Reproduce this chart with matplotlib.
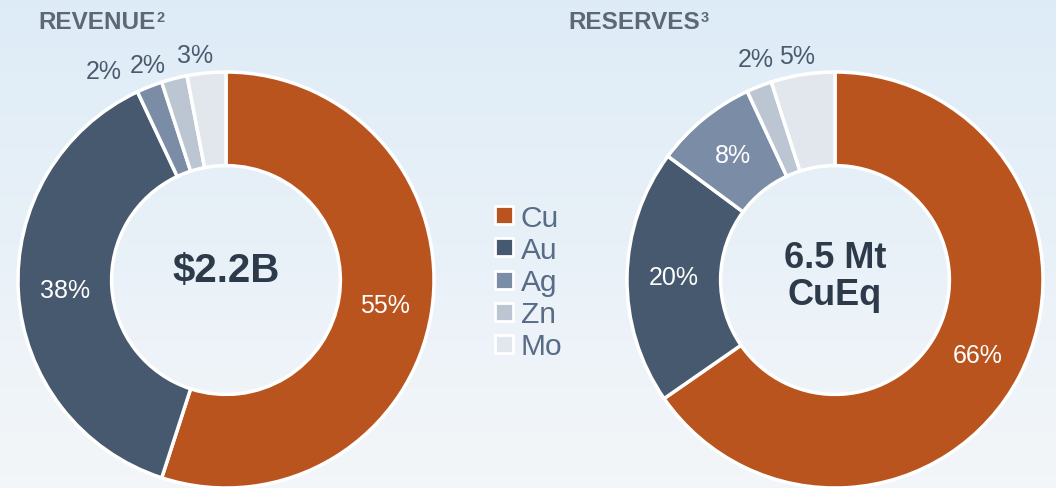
import numpy as np
import matplotlib
matplotlib.use("Agg")
import matplotlib.pyplot as plt
from matplotlib.lines import Line2D

plt.rcParams['font.family'] = ['Liberation Sans', 'DejaVu Sans']

metals = ["Cu", "Au", "Ag", "Zn", "Mo"]
colors = ["#b9541f", "#46596e", "#7a8ca6", "#bcc6d3", "#e2e7ed"]
revenue = [55, 38, 2, 2, 3]
reserves = [66, 20, 8, 2, 5]
revenue_title = ("REVENUE", "2")
reserves_title = ("RESERVES", "3")
revenue_center = "$2.2B"
reserves_center = "6.5 Mt\nCuEq"

W, H = 1056, 489
fig = plt.figure(figsize=(W / 100, H / 100), dpi=100)

# background sky gradient
bg = fig.add_axes([0, 0, 1, 1], zorder=-10)
grad = np.linspace(0, 1, 256)[:, None]
top = np.array([0.87, 0.925, 0.97])
bot = np.array([0.955, 0.965, 0.975])
img = top[None, None, :] * (1 - grad[..., None]) + bot[None, None, :] * grad[..., None]
img = np.clip(img, 0, 1)
bg.imshow(img, aspect='auto', extent=[0, 1, 0, 1], origin='upper')
bg.axis('off')


def px(x, y):
    return x / W, 1 - y / H


def donut(cx, cy, r, values, inner_labels):
    ax = fig.add_axes([(cx - r) / W, (H - cy - r) / H, 2 * r / W, 2 * r / H])
    ax.pie(values, colors=colors, startangle=90, counterclock=False,
           radius=1.0, wedgeprops=dict(width=0.45, edgecolor='white', linewidth=2.5))
    total = sum(values)
    cum = 0
    for v, show in zip(values, inner_labels):
        mid = 90 - 360 * (cum + v / 2) / total
        cum += v
        if show:
            rr = 0.775
            ax.text(rr * np.cos(np.radians(mid)), rr * np.sin(np.radians(mid)), f"{v}%",
                    ha='center', va='center', color='white', fontsize=18)
    ax.set_xlim(-1, 1)
    ax.set_ylim(-1, 1)
    ax.set_aspect('auto')
    ax.axis('off')
    return ax


axL = donut(226, 281, 208, revenue, [True, True, False, False, False])
axR = donut(835, 281, 208, reserves, [True, True, True, False, False])

axL.text(0, 0.05, revenue_center, ha='center', va='center', fontsize=29,
         fontweight='bold', color='#2d3a4a')
axR.text(0, 0.02, reserves_center, ha='center', va='center', fontsize=26,
         fontweight='bold', color='#2d3a4a', linespacing=1.05)

# outer small labels
lab_col = '#4b5b6e'
outer = [((104, 72), revenue[2]), ((148, 66), revenue[3]), ((195, 56), revenue[4]),
         ((756, 60), reserves[3]), ((797, 57), reserves[4])]
for (x, y), v in outer:
    fig.text(*px(x, y), f"{v}%", ha='center', va='center', fontsize=18, color=lab_col)

# titles with superscripts
for (main, sup), x0 in [(revenue_title, 38), (reserves_title, 568)]:
    t = fig.text(*px(x0, 29), main, ha='left', va='baseline', fontsize=17.5,
                 fontweight='bold', color='#5d6873')
    fig.canvas.draw()
    bb = t.get_window_extent()
    fig.text((bb.x1 + 1) / W, 1 - 22 / H, sup, ha='left', va='baseline', fontsize=10.5,
             fontweight='bold', color='#5d6873')

# legend
handles = [Line2D([], [], marker='s', linestyle='none', markersize=13,
                  markerfacecolor=c, markeredgecolor='white', markeredgewidth=2)
           for c in colors]
leg = fig.legend(handles, metals, loc='center left', bbox_to_anchor=px(494, 283),
                 frameon=False, fontsize=21.5, labelcolor='#586c87', handlelength=0.7,
                 handletextpad=0.2, labelspacing=0.14, borderaxespad=0, borderpad=0)

fig.savefig("out.png", dpi=100)
